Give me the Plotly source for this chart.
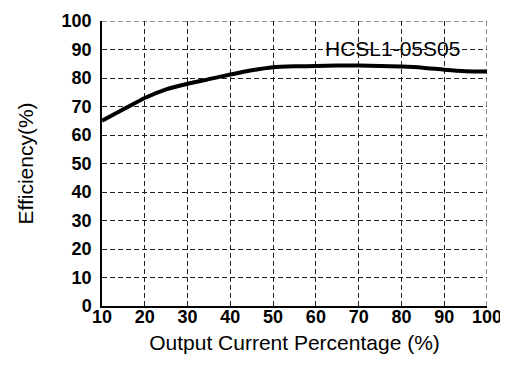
import plotly.graph_objects as go

load_pct = [10, 15, 20, 25, 30, 35, 40, 45, 50, 55, 60, 65, 70, 75, 80, 85, 90, 95, 100]
efficiency = [65, 69, 73, 76, 78, 79.6, 81.2, 82.7, 83.8, 84.1, 84.2, 84.4, 84.4, 84.2, 84.0, 83.6, 82.9, 82.4, 82.3]
x_ticks = [10, 20, 30, 40, 50, 60, 70, 80, 90, 100]
y_ticks = [0, 10, 20, 30, 40, 50, 60, 70, 80, 90, 100]
model_label = "HCSL1-05S05"

x_min, x_max = 10, 100
y_min, y_max = 0, 100
grid_dash = "5px,3px"
grid_color = "#222"

fig = go.Figure()
fig.add_trace(go.Scatter(x=load_pct, y=efficiency, mode="lines",
                         line=dict(color="black", width=4, shape="spline", smoothing=0.6),
                         showlegend=False, hoverinfo="skip"))

fig.add_annotation(x=78, y=90.5, text=model_label, showarrow=False,
                   font=dict(family="Liberation Sans, Arial", size=21, color="black"))

# dashed top and right borders (grid lines at range ends)
fig.add_shape(type="line", x0=x_min, x1=x_max, y0=y_max, y1=y_max, xref="x", yref="y",
              line=dict(color=grid_color, width=1, dash=grid_dash), layer="below")
fig.add_shape(type="line", x0=x_max, x1=x_max, y0=y_min, y1=y_max, xref="x", yref="y",
              line=dict(color=grid_color, width=1, dash=grid_dash), layer="below")

tickfont = dict(family="Liberation Sans, Arial", size=18, color="black", weight="bold")
titlefont = dict(family="Liberation Sans, Arial", size=21, color="black")

fig.update_xaxes(range=[x_min, x_max], tickvals=x_ticks, ticktext=[str(v) for v in x_ticks],
                 showgrid=True, gridcolor=grid_color, griddash=grid_dash, gridwidth=1,
                 showline=True, linecolor="black", linewidth=1.5, zeroline=False,
                 ticks="", tickfont=tickfont, ticklabelstandoff=-6, ticklabeloverflow="allow",
                 automargin=False,
                 title=dict(text="Output Current Percentage (%)", font=titlefont, standoff=9))
fig.update_yaxes(range=[y_min, y_max], tickvals=y_ticks, ticktext=[str(v) for v in y_ticks],
                 showgrid=True, gridcolor=grid_color, griddash=grid_dash, gridwidth=1,
                 showline=True, linecolor="black", linewidth=1.5, zeroline=False,
                 ticks="", tickfont=tickfont, ticklabelstandoff=5, ticklabeloverflow="allow",
                 automargin=False,
                 title=dict(text="Efficiency(%)", font=titlefont, standoff=22))

# page body has an 8px margin, so the figure is 8px smaller and margins shifted
fig.update_layout(width=500, height=361, margin=dict(l=94, r=21, t=13, b=63),
                  plot_bgcolor="white", paper_bgcolor="white")

fig.write_html("out.html")
